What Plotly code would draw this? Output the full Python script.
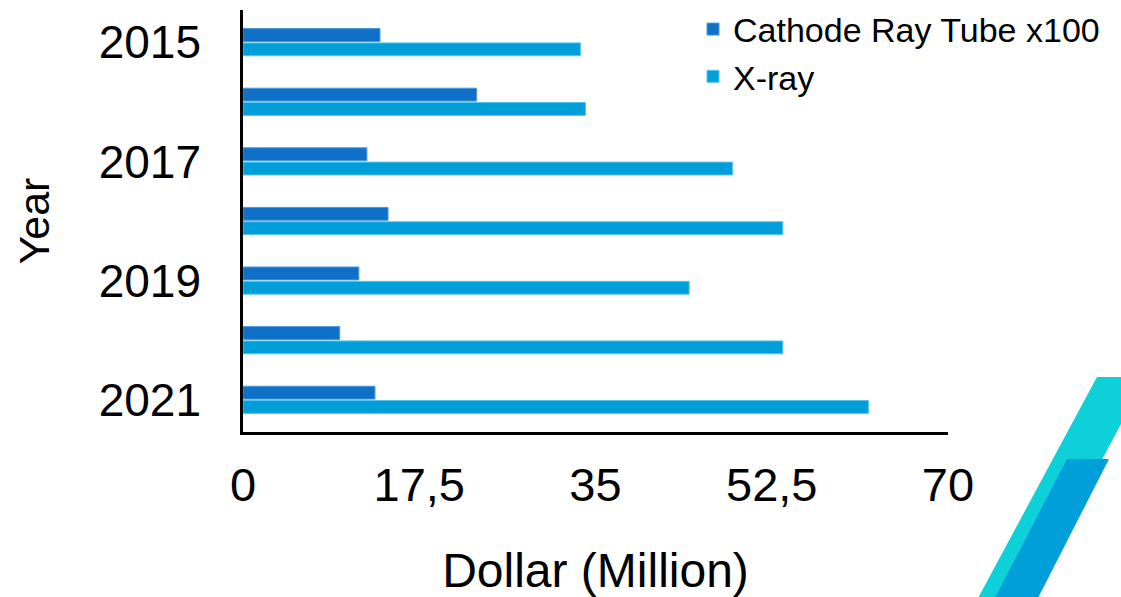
import plotly.graph_objects as go

years = [2015, 2016, 2017, 2018, 2019, 2020, 2021]
crt_x100 = [13.6, 23.2, 12.3, 14.4, 11.5, 9.6, 13.1]
xray = [33.5, 34.0, 48.6, 53.6, 44.3, 53.6, 62.1]
x_ticks = [0, 17.5, 35, 52.5, 70]
y_ticks = [2015, 2017, 2019, 2021]

W, H = 1121, 597
L, T = 243, 10
R = W - 948
B = H - 432
pw, ph = W - L - R, H - T - B

def px(x):  # pixel -> paper
    return (x - L) / pw

def py(y):
    return (H - B - y) / ph

FONT = "Liberation Sans, Arial, Helvetica, sans-serif"

fig = go.Figure()
fig.add_trace(go.Bar(
    y=years, x=crt_x100, orientation="h", name="Cathode Ray Tube x100",
    marker=dict(color="#0F70C7", line=dict(color="#4A97DC", width=1)),
))
fig.add_trace(go.Bar(
    y=years, x=xray, orientation="h", name="X-ray",
    marker=dict(color="#019FDA", line=dict(color="#5CC3EA", width=1)),
))

def poly(pts, color):
    d = "M " + " L ".join(f"{px(a):.4f},{py(b):.4f}" for a, b in pts) + " Z"
    return dict(type="path", xref="paper", yref="paper", path=d,
                fillcolor=color, line=dict(width=0), layer="above")

shapes = [
    poly([(1097, 377), (1146, 377), (1027, 600), (977, 600)], "#0DD0D8"),
    poly([(1067, 459), (1109, 459), (1037, 600), (994, 600)], "#009FD9"),
]

fig.update_layout(
    width=W, height=H,
    margin=dict(l=L, r=R, t=T, b=B, pad=0, autoexpand=False),
    paper_bgcolor="white", plot_bgcolor="white",
    barmode="group", bargap=0.52, bargroupgap=0.1,
    separators=", ",
    font=dict(family=FONT, color="black"),
    showlegend=True,
    legend=dict(x=px(693), y=py(0.5), xanchor="left", yanchor="top",
                font=dict(size=34, family=FONT), bgcolor="rgba(0,0,0,0)",
                traceorder="normal", tracegroupgap=0),
    shapes=shapes,
    xaxis=dict(range=[0, 70], tickvals=x_ticks,
               showgrid=False, zeroline=False,
               showline=True, linecolor="black", linewidth=2.5,
               ticks="", tickfont=dict(size=47), ticklabelstandoff=10,
               title=dict(text="Dollar (Million)", font=dict(size=48), standoff=54),
               fixedrange=True),
    yaxis=dict(range=[2021.54, 2014.46], tickvals=y_ticks,
               showgrid=False, zeroline=False,
               showline=True, linecolor="black", linewidth=2.5,
               ticks="", tickfont=dict(size=46), ticklabelstandoff=30,
               title=dict(text="Year", font=dict(size=43), standoff=36),
               fixedrange=True),
)

fig.write_html("out.html", config={"displayModeBar": False},
               post_script="document.body.style.margin='0';document.body.style.overflow='hidden';")
